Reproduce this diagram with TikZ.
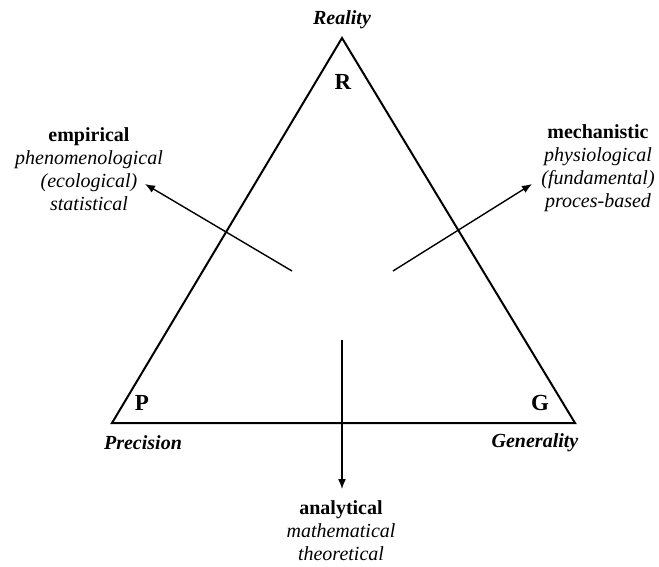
\documentclass[tikz,border=0pt]{standalone}
\usepackage{fontspec}
\setmainfont{Liberation Serif}
\usetikzlibrary{arrows.meta}
\begin{document}
\begin{tikzpicture}[
    x=0.5pt, y=-0.5pt,
    >={Latex[length=5pt,width=4pt]},
    every node/.style={font=\fontsize{10}{11.5}\selectfont},
    side/.style={line width=1pt, line join=miter},
    edge/.style={->, line width=0.7pt},
    corner/.style={font=\fontsize{11.5}{13}\selectfont\bfseries},
    axis/.style={font=\fontsize{10}{12}\selectfont\bfseries\itshape},
    family/.style={align=center, inner sep=0pt}
]
\useasboundingbox (0,0) rectangle (659,567);

% Ecken des Dreiecks
\coordinate (top) at (342,38);
\coordinate (left) at (112,423);
\coordinate (right) at (575,423);
\draw[side] (top) -- (right) -- (left) -- cycle;

% Achsen
\node[axis] (reality) at (342,20) {Reality};
\node[axis] (precision) at (143,443) {Precision};
\node[axis] (generality) at (535,443) {Generality};

\node[corner] (R) at (343,82) {R};
\node[corner] (P) at (142,403) {P};
\node[corner] (G) at (540,403) {G};

% Modellfamilien
\node[family] (emp) at (89,169)
    {\textbf{empirical}\\\textit{phenomenological}\\\textit{(ecological)}\\\textit{statistical}};
\node[family] (mech) at (598,168)
    {\textbf{mechanistic}\\\textit{physiological}\\\textit{(fundamental)}\\\textit{proces-based}};
\node[family] (ana) at (341,531)
    {\textbf{analytical}\\\textit{mathematical}\\\textit{theoretical}};

% Pfeile
\coordinate (empS) at (292,271);
\coordinate (empE) at (145,184);
\coordinate (mechS) at (393,271);
\coordinate (mechE) at (532,184);
\coordinate (anaS) at (342,340);
\coordinate (anaE) at (342,489);
\draw[edge] (empS) -- (empE);
\draw[edge] (mechS) -- (mechE);
\draw[edge] (anaS) -- (anaE);

\end{tikzpicture}
\end{document}
